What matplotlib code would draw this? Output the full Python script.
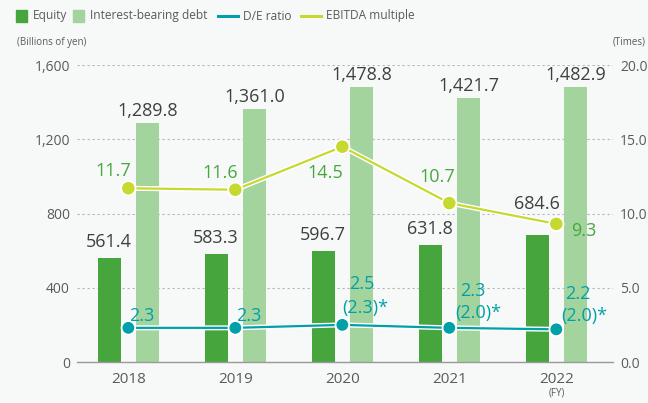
import matplotlib
matplotlib.use("Agg")
import matplotlib.pyplot as plt
import matplotlib.patheffects as pe
from matplotlib.patches import Rectangle
from matplotlib.lines import Line2D
import numpy as np

plt.rcParams['font.family'] = ['Open Sans', 'DejaVu Sans']

years = ["2018", "2019", "2020", "2021", "2022"]
equity = [561.4, 583.3, 596.7, 631.8, 684.6]
debt = [1289.8, 1361.0, 1478.8, 1421.7, 1482.9]
de_ratio = [2.3, 2.3, 2.5, 2.3, 2.2]
de_adjusted = [None, None, 2.3, 2.0, 2.0]
ebitda = [11.7, 11.6, 14.5, 10.7, 9.3]

left_ticks = [0, 400, 800, 1200, 1600]
right_ticks = [0.0, 5.0, 10.0, 15.0, 20.0]

C_EQ = "#46a63d"
C_DEBT = "#a4d49d"
C_DE = "#00a0a8"
C_EB = "#c6d92e"
C_EB_TXT = "#47a83e"
C_TXT = "#3f3f3f"
C_TICK = "#5a5a5a"
BG = "#f7f9f9"

fig = plt.figure(figsize=(6.48, 4.03), dpi=100, facecolor=BG)
ax = fig.add_axes([77 / 648, 1 - 362 / 403, 536 / 648, 297 / 403])
ax.set_facecolor(BG)

x = np.arange(len(years))
w = 0.215
off = 0.18
ax.bar(x - off, equity, w, color=C_EQ, zorder=2)
ax.bar(x + off, debt, w, color=C_DEBT, zorder=2)

ax.set_xlim(-0.48, 4.53)
ax.set_ylim(0, 1600)
ax.set_yticks(left_ticks)
ax.set_yticklabels([f"{v:,}" for v in left_ticks])
ax.set_xticks(x)
ax.set_xticklabels(years)
ax.tick_params(axis='y', length=0, pad=5, labelsize=10, labelcolor=C_TICK)
ax.tick_params(axis='x', length=0, pad=7, labelsize=11, labelcolor=C_TICK)
for s in ["left", "right", "top"]:
    ax.spines[s].set_visible(False)
ax.spines["bottom"].set_color("#9a9a9a")
ax.spines["bottom"].set_linewidth(1.0)
ax.spines["bottom"].set_zorder(3)
ax.yaxis.grid(True, linestyle=(0, (2, 2.5)), color="#b5b5b5", linewidth=0.8, zorder=1)
ax.set_axisbelow(True)

# value labels above bars
eq_dy = [7, 7, 7, 7, 22]
for i, v in enumerate(equity):
    ax.annotate(f"{v:,.1f}", (x[i] - off, v), xytext=(0, eq_dy[i]), textcoords="offset pixels",
                ha="center", va="bottom", fontsize=13, color=C_TXT)
for i, v in enumerate(debt):
    ax.annotate(f"{v:,.1f}", (x[i] + off, v), xytext=(0, 3), textcoords="offset pixels",
                ha="center", va="bottom", fontsize=13, color=C_TXT)

ax2 = ax.twinx()
ax2.set_ylim(0, 20)
ax2.set_yticks(right_ticks)
ax2.set_yticklabels([f"{v:.1f}" for v in right_ticks])
ax2.tick_params(axis='y', length=0, pad=5, labelsize=10, labelcolor=C_TICK)
for s in ["left", "right", "top", "bottom"]:
    ax2.spines[s].set_visible(False)

halo = [pe.Stroke(linewidth=3.6, foreground="white"), pe.Normal()]
ax2.plot(x, ebitda, color=C_EB, lw=1.6, marker="o", ms=8, zorder=4, path_effects=halo)
ax2.plot(x, de_ratio, color=C_DE, lw=1.6, marker="o", ms=7.5, zorder=5, path_effects=halo)

# EBITDA multiple labels
eb_off = [(-15, 17), (-15, 17), (-17, -26), (-12, 26), (28, -7)]
for i, v in enumerate(ebitda):
    ax2.annotate(f"{v:.1f}", (x[i], v), xytext=eb_off[i], textcoords="offset pixels",
                 ha="center", va="center", fontsize=13, color=C_EB_TXT)

# D/E ratio labels (with adjusted ratio in parentheses below)
de_top = [(13, 12), (13, 12), (19, 41), (24, 37), (22, 35)]
de_sub = [None, None, (0, 17), (6, 15), (5, 13)]
for i, v in enumerate(de_ratio):
    ax2.annotate(f"{v:.1f}", (x[i], v), xytext=de_top[i], textcoords="offset pixels",
                 ha="center", va="center", fontsize=13, color=C_DE)
    if de_adjusted[i] is not None:
        ax2.annotate(f"({de_adjusted[i]:.1f})*", (x[i], v), xytext=de_sub[i],
                     textcoords="offset pixels", ha="left", va="center",
                     fontsize=13, color=C_DE)

fig.text(17 / 648, 1 - 42 / 403, "(Billions of yen)", fontsize=7, color=C_TICK, va="center")
fig.text(646 / 648, 1 - 42 / 403, "(Times)", fontsize=7, color=C_TICK, va="center", ha="right")
fig.text(557 / 648, 1 - 393 / 403, "(FY)", fontsize=7, color=C_TICK, va="center", ha="center")

# legend
ly = 1 - 16 / 403
def sq(x0, color):
    fig.patches.append(Rectangle((x0 / 648, 1 - 21.5 / 403), 11 / 648, 11 / 403,
                                 transform=fig.transFigure, color=color))
def ln(x0, color):
    fig.lines.append(Line2D([x0 / 648, (x0 + 20) / 648], [ly, ly], transform=fig.transFigure,
                            color=color, lw=2.2))
sq(16, C_EQ)
fig.text(33 / 648, ly, "Equity", fontsize=8.6, color=C_TICK, va="center")
sq(73, C_DEBT)
fig.text(90 / 648, ly, "Interest-bearing debt", fontsize=8.6, color=C_TICK, va="center")
ln(218, C_DE)
fig.text(243 / 648, ly, "D/E ratio", fontsize=8.6, color=C_TICK, va="center")
ln(301, C_EB)
fig.text(326 / 648, ly, "EBITDA multiple", fontsize=8.6, color=C_TICK, va="center")

fig.savefig("out.png", dpi=100, facecolor=BG)
